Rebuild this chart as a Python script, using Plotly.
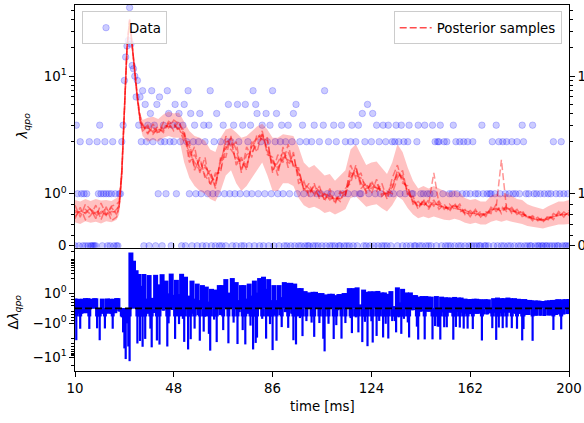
import numpy as np
import plotly.graph_objects as go

# ------------------------------------------------------------------ data
BIN_START = 10.0   # ms, first data bin
BIN_WIDTH = 0.5    # ms
COUNT_ROWS = [
    [0, 3, 1, 0, 2, 1, 0, 1, 0, 1, 0, 2, 0, 0, 0, 0, 0, 2, 1, 3],          # 10-20 ms
    [1, 0, 1, 2, 1, 0, 1, 0, 1, 2, 0, 1, 0, 0, 1, 1, 2, 3, 9, 16],         # 20-30
    [21, 24, 54, 22, 13, 12, 10, 6, 9, 3, 6, 2, 7, 0, 5, 2, 3, 0, 4, 7],   # 30-40
    [2, 3, 0, 5, 1, 6, 2, 0, 3, 2, 1, 7, 4, 2, 0, 3, 2, 5, 1, 3],          # 40-50
    [4, 2, 0, 3, 5, 0, 2, 7, 1, 4, 0, 2, 3, 1, 0, 2, 4, 1, 0, 3],          # 50-60
    [2, 0, 1, 3, 7, 0, 1, 2, 0, 4, 1, 0, 2, 0, 3, 1, 0, 2, 5, 1],          # 60-70
    [2, 0, 3, 1, 0, 5, 2, 1, 0, 3, 0, 5, 1, 2, 0, 3, 1, 7, 0, 5],          # 70-80
    [4, 1, 0, 2, 3, 0, 1, 4, 2, 0, 3, 1, 7, 0, 2, 4, 1, 0, 2, 3],          # 80-90
    [1, 0, 2, 0, 3, 1, 0, 2, 4, 0, 5, 1, 0, 2, 0, 3, 1, 0, 2, 0],          # 90-100
    [0, 1, 2, 0, 3, 0, 1, 0, 2, 1, 0, 3, 7, 0, 1, 2, 0, 1, 0, 3],          # 100-110
    [0, 2, 1, 0, 0, 3, 1, 0, 2, 0, 1, 0, 2, 3, 0, 1, 2, 0, 3, 1],          # 110-120
    [1, 4, 0, 2, 0, 5, 1, 0, 2, 4, 0, 1, 3, 0, 2, 1, 0, 3, 0, 2],          # 120-130
    [0, 3, 1, 0, 2, 1, 2, 3, 0, 2, 1, 3, 0, 2, 1, 0, 2, 3, 0, 1],          # 130-140
    [1, 0, 0, 2, 3, 0, 1, 0, 1, 3, 0, 1, 0, 1, 0, 3, 1, 2, 0, 2],          # 140-150
    [2, 3, 0, 1, 2, 0, 2, 0, 1, 0, 1, 3, 0, 2, 1, 0, 2, 0, 1, 2],          # 150-160
    [0, 1, 2, 0, 1, 0, 2, 0, 1, 0, 1, 0, 0, 3, 1, 0, 0, 1, 0, 1],          # 160-170
    [1, 2, 0, 1, 3, 0, 2, 1, 0, 2, 0, 1, 2, 0, 1, 0, 2, 1, 0, 1],          # 170-180
    [2, 0, 1, 0, 3, 2, 0, 1, 0, 1, 0, 0, 3, 1, 0, 1, 0, 0, 1, 0],          # 180-190
    [0, 1, 0, 0, 1, 0, 1, 0, 2, 0, 1, 0, 0, 1, 2, 0, 1, 0, 0, 1],          # 190-200
    [0],                                                                  # 200
]
COUNTS = np.array([c for row in COUNT_ROWS for c in row], dtype=float)

# posterior sample time grid (finer around the flare peak)
SAMPLE_T = list(range(10, 27, 2)) + list(range(27, 37)) + list(range(38, 201, 2))

MEDIAN = [
    0.66, 0.64, 0.68, 0.63, 0.67, 0.65, 0.66, 0.64, 0.68,
    0.8, 1.4, 4.3, 20, 40, 21, 10, 5.9, 3.5, 2.9,
    2.65, 2.7, 2.6, 2.85, 3.0, 2.9, 2.95, 2.3, 1.85, 1.65,
    1.55, 1.45, 1.3, 1.25, 1.55, 1.95, 2.05, 1.75, 1.55, 1.65,
    1.85, 2.05, 2.3, 1.95, 1.55, 1.55, 1.75, 1.7, 1.65, 1.35,
    1.15, 1.05, 1.1, 1.02, 0.93, 0.97, 0.88, 0.95, 1.02, 1.35,
    1.4, 1.25, 1.1, 1.14, 1.16, 1.06, 0.97, 1.15, 1.4, 1.3,
    1.06, 0.88, 0.78, 0.82, 0.78, 0.82, 0.78, 0.74, 0.72, 0.76,
    0.72, 0.65, 0.62, 0.64, 0.6, 0.6, 0.68, 0.72, 0.68, 0.72,
    0.68, 0.64, 0.62, 0.56, 0.53, 0.51, 0.49, 0.53, 0.56, 0.6,
    0.6, 0.62,
]

# envelope of the posterior samples
BAND_LO = [
    0.45, 0.42, 0.47, 0.44, 0.46, 0.43, 0.47, 0.45, 0.5,
    0.6, 1.2, 3.9, 19, 39, 19.5, 9.3, 5.3, 3.0, 2.3,
    2.0, 2.1, 2.0, 2.2, 2.3, 2.2, 2.2, 1.6, 1.3, 1.15,
    1.05, 1.0, 0.9, 0.85, 1.05, 1.35, 1.45, 1.2, 1.05, 1.15,
    1.3, 1.45, 1.6, 1.35, 1.05, 1.05, 1.2, 1.2, 1.15, 0.92,
    0.78, 0.72, 0.75, 0.7, 0.63, 0.66, 0.6, 0.65, 0.7, 0.92,
    0.95, 0.85, 0.75, 0.78, 0.8, 0.72, 0.66, 0.78, 0.95, 0.88,
    0.72, 0.6, 0.53, 0.56, 0.53, 0.56, 0.53, 0.5, 0.49, 0.52,
    0.49, 0.44, 0.42, 0.44, 0.41, 0.41, 0.46, 0.49, 0.46, 0.49,
    0.46, 0.44, 0.42, 0.38, 0.36, 0.35, 0.33, 0.36, 0.38, 0.41,
    0.41, 0.42,
]
BAND_HI = [
    0.88, 0.85, 0.9, 0.86, 0.9, 0.87, 0.88, 0.86, 0.92,
    1.0, 1.6, 4.8, 21.5, 42, 22.5, 11, 6.6, 4.1, 3.4,
    3.6, 3.7, 3.5, 3.9, 4.2, 4.0, 4.1, 3.3, 2.6, 2.3,
    2.2, 2.05, 1.85, 1.8, 2.2, 2.7, 2.8, 2.5, 2.2, 2.3,
    2.6, 2.9, 3.1, 2.7, 2.2, 2.2, 2.4, 2.35, 2.3, 1.9,
    1.6, 1.5, 1.55, 1.45, 1.35, 1.38, 1.25, 1.35, 1.45, 1.85,
    1.95, 1.75, 1.55, 1.6, 1.62, 1.5, 1.38, 1.6, 1.95, 1.8,
    1.5, 1.25, 1.1, 1.15, 1.1, 1.15, 1.1, 1.05, 1.02, 1.07,
    1.02, 0.92, 0.88, 0.9, 0.85, 0.85, 0.96, 1.0, 0.96, 1.0,
    0.96, 0.9, 0.88, 0.8, 0.76, 0.73, 0.7, 0.76, 0.8, 0.85,
    0.85, 0.88,
]

SAMPLE_1 = [
    0.78, 0.55, 0.8, 0.7, 0.52, 0.82, 0.6, 0.76, 0.8,
    0.85, 1.45, 4.4, 20.5, 40.5, 21.5, 10.3, 6.2, 3.8, 3.1,
    2.4, 3.1, 2.5, 3.2, 2.8, 3.4, 3.1, 2.6, 1.7, 1.9,
    1.4, 1.7, 1.15, 1.4, 1.4, 2.3, 1.9, 2.0, 1.4, 1.9,
    1.7, 2.4, 2.1, 2.2, 1.4, 1.75, 1.6, 1.95, 1.5, 1.5,
    1.05, 1.2, 0.95, 1.15, 0.85, 1.1, 0.8, 1.05, 0.95, 1.55,
    1.3, 1.4, 1.0, 1.25, 1.05, 1.2, 0.9, 1.3, 1.55, 1.2,
    1.15, 0.8, 0.85, 0.75, 0.88, 0.76, 0.86, 0.7, 0.8, 0.7,
    0.8, 0.6, 0.68, 0.58, 0.66, 0.56, 0.74, 0.66, 0.76, 0.66,
    0.74, 0.6, 0.68, 0.52, 0.58, 0.48, 0.54, 0.5, 0.62, 0.56,
    0.65, 0.58,
]
SAMPLE_2 = [
    0.52, 0.74, 0.5, 0.58, 0.78, 0.5, 0.75, 0.48, 0.55,
    0.75, 1.35, 4.2, 19.5, 39.5, 20.5, 9.8, 5.6, 3.3, 2.6,
    2.9, 2.4, 2.8, 2.5, 3.2, 2.6, 2.8, 2.0, 2.0, 1.45,
    1.7, 1.3, 1.45, 1.1, 1.7, 1.7, 2.3, 1.55, 1.7, 1.45,
    2.0, 1.8, 2.5, 1.75, 1.7, 1.35, 1.9, 1.5, 1.8, 1.2,
    1.25, 0.95, 1.2, 0.9, 1.0, 0.88, 0.95, 0.85, 1.1, 1.2,
    1.55, 1.1, 1.2, 1.0, 1.28, 0.95, 1.05, 1.0, 1.3, 1.45,
    0.95, 0.95, 0.7, 0.9, 0.7, 0.88, 0.7, 0.8, 0.65, 0.82,
    0.65, 0.7, 0.56, 0.7, 0.55, 0.65, 0.62, 0.8, 0.62, 0.78,
    0.62, 0.7, 0.56, 0.6, 0.48, 0.55, 0.45, 0.58, 0.5, 0.66,
    0.55, 0.68,
]
SAMPLE_3 = [
    0.64, 0.66, 0.7, 0.6, 0.64, 0.68, 0.6, 0.66, 0.65,
    0.8, 1.4, 4.3, 20, 40, 21, 10, 5.8, 3.6, 2.8,
    2.8, 2.6, 2.9, 2.7, 3.3, 3.0, 2.7, 2.5, 1.6, 1.75,
    1.5, 1.5, 1.4, 1.2, 1.6, 2.0, 2.0, 1.6, 1.65, 1.55,
    1.9, 2.1, 2.6, 1.8, 1.6, 1.5, 1.65, 1.8, 1.55, 1.4,
    1.1, 1.0, 1.15, 1.05, 0.9, 1.0, 0.85, 1.0, 1.05, 1.4,
    1.35, 1.3, 1.15, 1.1, 1.2, 1.0, 1.0, 1.2, 1.35, 1.35,
    1.0, 0.9, 0.76, 0.84, 0.76, 0.84, 0.76, 0.76, 0.7, 0.76,
    0.74, 0.64, 0.6, 0.66, 0.62, 0.6, 0.66, 0.74, 1.65, 0.7,
    0.7, 0.62, 0.6, 0.58, 0.52, 0.52, 0.5, 0.52, 0.58, 0.58,
    0.62, 0.6,
]
SAMPLE_4 = [
    0.68, 0.62, 0.64, 0.72, 0.6, 0.62, 0.72, 0.6, 0.7,
    0.78, 1.38, 4.35, 20.2, 40.2, 20.8, 10.2, 6.0, 3.4, 3.0,
    2.5, 2.9, 2.4, 3.0, 2.9, 2.8, 3.3, 2.2, 1.9, 1.5,
    1.65, 1.35, 1.2, 1.35, 1.45, 1.85, 2.2, 1.85, 1.45, 1.75,
    1.8, 1.95, 2.2, 2.05, 1.45, 1.6, 1.8, 1.6, 1.75, 1.3,
    1.2, 1.1, 1.0, 1.1, 0.95, 0.92, 0.92, 0.9, 0.98, 1.3,
    1.5, 1.2, 1.05, 1.2, 1.1, 1.1, 0.92, 1.1, 1.45, 1.25,
    1.1, 0.85, 0.8, 0.8, 0.8, 1.4, 0.8, 0.72, 0.74, 0.72,
    0.7, 0.68, 0.64, 0.62, 0.58, 0.62, 0.7, 0.7, 0.7, 0.74,
    0.66, 0.66, 0.64, 0.54, 0.55, 0.5, 0.5, 0.55, 0.54, 0.62,
    0.58, 0.64,
]
SAMPLE_5 = [
    0.56, 0.68, 0.62, 0.7, 0.56, 0.66, 0.58, 0.74, 0.6,
    0.74, 1.42, 4.25, 19.8, 39.8, 21.2, 9.9, 5.7, 3.6, 2.7,
    3.0, 2.5, 2.7, 2.6, 3.1, 3.1, 2.6, 2.4, 1.8, 1.6,
    1.45, 1.55, 1.35, 1.15, 1.65, 1.9, 1.85, 1.7, 1.6, 1.5,
    1.95, 2.2, 2.35, 1.85, 1.65, 1.45, 1.7, 1.65, 1.6, 1.45,
    1.1, 1.05, 1.05, 0.95, 1.0, 0.95, 0.9, 0.92, 1.0, 1.3,
    1.45, 1.2, 1.1, 1.15, 1.12, 1.05, 1.0, 1.12, 1.4, 1.3,
    1.05, 0.86, 0.74, 0.86, 0.74, 0.8, 0.8, 0.74, 0.72, 0.78,
    0.7, 0.62, 0.62, 0.62, 0.6, 0.58, 0.7, 0.72, 0.66, 0.72,
    0.68, 0.64, 0.62, 0.56, 0.52, 0.5, 0.48, 0.52, 0.56, 0.58,
    0.6, 0.62,
]
SAMPLES = [SAMPLE_1, SAMPLE_2, SAMPLE_3, SAMPLE_4, SAMPLE_5]

X_TICKS = [10, 48, 86, 124, 162, 200]
TOP_TICK_VALUES = [0, 1, 10]
TOP_TICK_TEXT = ["0", "10<sup>0</sup>", "10<sup>1</sup>"]
TOP_MINOR_VALUES = [0.2, 0.4, 0.6, 0.8, 2, 3, 4, 5, 6, 7, 8, 9, 20, 30, 40, 50]
BOT_TICK_VALUES = [1, -1, -10]
BOT_TICK_TEXT = ["10<sup>0</sup>", "\u221210<sup>0</sup>", "\u221210<sup>1</sup>"]
BOT_MINOR_VALUES = [0.2, 0.4, 0.6, 0.8, 2, 3, 4, 5, 6, 7, 8, 9, 10, 20,
                    -0.2, -0.4, -0.6, -0.8, -2, -3, -4, -5, -6, -7, -8, -9, -20]

for arr in SAMPLES + [MEDIAN, BAND_LO, BAND_HI]:
    assert len(arr) == len(SAMPLE_T)

# ------------------------------------------------------------------ symlog scale (linthresh=2, linscale=1)
LINTHRESH = 2.0
LINSCALE_ADJ = 1.0 / (1.0 - 1.0 / 10.0)


def symlog(v):
    v = np.asarray(v, dtype=float)
    a = np.abs(v)
    logpart = np.sign(v) * LINTHRESH * (LINSCALE_ADJ + np.log10(np.maximum(a, 1e-12) / LINTHRESH))
    return np.where(a <= LINTHRESH, v * LINSCALE_ADJ, logpart)


t_data = BIN_START + BIN_WIDTH * np.arange(len(COUNTS))
ts = np.array(SAMPLE_T, dtype=float)
med = np.array(MEDIAN, dtype=float)
nearest = np.abs(ts[None, :] - t_data[:, None]).argmin(axis=1)
resid = med[nearest] - COUNTS
resid_u = symlog(resid)

# ------------------------------------------------------------------ geometry
W, H = 584, 423
PL, PR, PT, PB = 75.3, 569.0, 4.5, 370.7
ph = PB - PT
top_dom = [(PB - 247.3) / ph, 1.0]
bot_dom = [0.0, (PB - 248.3) / ph]
TOP_RANGE = [-0.0405, 5.14]
BOT_RANGE = [-4.64, 4.42]

FONT = dict(family="DejaVu Sans", size=13.33, color="black")
BLUE_PT = "rgba(0,0,255,0.2)"

fig = go.Figure()

# data points
fig.add_trace(go.Scatter(
    x=t_data, y=symlog(COUNTS), mode="markers", name="Data",
    xaxis="x2", yaxis="y", legend="legend",
    marker=dict(size=6.5, color=BLUE_PT, line=dict(color=BLUE_PT, width=1)),
    hoverinfo="skip"))

# posterior spread band
fig.add_trace(go.Scatter(x=ts, y=symlog(BAND_LO), mode="lines", line=dict(width=0),
                         xaxis="x2", yaxis="y", showlegend=False, hoverinfo="skip"))
fig.add_trace(go.Scatter(x=ts, y=symlog(BAND_HI), mode="lines", line=dict(width=0),
                         fill="tonexty", fillcolor="rgba(255,0,0,0.24)",
                         xaxis="x2", yaxis="y", showlegend=False, hoverinfo="skip"))
for s in SAMPLES:
    fig.add_trace(go.Scatter(x=ts, y=symlog(s), mode="lines",
                             line=dict(color="rgba(255,0,0,0.42)", width=1.5, dash="7px,3px"),
                             xaxis="x2", yaxis="y", showlegend=False, hoverinfo="skip"))
# legend entry for samples
fig.add_trace(go.Scatter(x=[None], y=[None], mode="lines", name="Posterior samples",
                         line=dict(color="rgba(255,0,0,0.7)", width=1.5, dash="7px,3px"),
                         xaxis="x2", yaxis="y", legend="legend2"))
# dummy for right axis
fig.add_trace(go.Scatter(x=[None], y=[None], xaxis="x2", yaxis="y3", showlegend=False))


def bar_trace(values_u, width):
    bx, by = [], []
    for t, r in zip(t_data, values_u):
        if r != 0:
            bx += [t, t, None]
            by += [0.0, r, None]
    return go.Scatter(x=bx, y=by, mode="lines", line=dict(color="blue", width=width),
                      xaxis="x", yaxis="y2", showlegend=False, hoverinfo="skip")


# residuals: positive side, negative near-zero base, negative spikes
fig.add_trace(bar_trace(np.where(resid_u > 0, resid_u, 0.0), 5.0))
fig.add_trace(bar_trace(np.where(resid_u < 0, np.maximum(resid_u, -0.6), 0.0), 4.0))
fig.add_trace(bar_trace(np.where(resid_u < 0, resid_u, 0.0), 2.2))
fig.add_trace(go.Scatter(x=[10, 200], y=[0, 0], mode="lines",
                         line=dict(color="black", width=1.6, dash="7px,3px"),
                         xaxis="x", yaxis="y2", showlegend=False, hoverinfo="skip"))

axis_common = dict(showline=True, linecolor="black", linewidth=1.07, showgrid=False,
                   zeroline=False, tickcolor="black", tickwidth=1.07, ticklen=4.7,
                   tickfont=FONT, automargin=False)

top_ticks_u = symlog(TOP_TICK_VALUES).tolist()
top_minor_u = symlog(TOP_MINOR_VALUES).tolist()
bot_ticks_u = symlog(BOT_TICK_VALUES).tolist()
bot_minor_u = symlog(BOT_MINOR_VALUES).tolist()
minor_style = dict(tickmode="array", ticks="outside", ticklen=2.7, tickwidth=0.8,
                   tickcolor="black", showgrid=False)

fig.update_layout(
    width=W, height=H,
    margin=dict(l=PL, r=W - PR, t=PT, b=H - PB, pad=0, autoexpand=False),
    paper_bgcolor="white", plot_bgcolor="white",
    font=FONT,
    xaxis=dict(axis_common, domain=[0, 1], anchor="y2", range=[10, 200],
               tickmode="array", tickvals=X_TICKS, ticks="outside", mirror=True),
    xaxis2=dict(axis_common, domain=[0, 1], anchor="y", range=[10, 200], matches="x",
                tickmode="array", tickvals=X_TICKS, ticks="inside", showticklabels=False,
                mirror=True),
    yaxis=dict(axis_common, domain=top_dom, anchor="x2", range=TOP_RANGE,
               tickmode="array", tickvals=top_ticks_u, ticktext=TOP_TICK_TEXT,
               ticks="outside", minor=dict(minor_style, tickvals=top_minor_u)),
    yaxis3=dict(axis_common, overlaying="y", side="right", anchor="x2", range=TOP_RANGE,
                tickmode="array", tickvals=top_ticks_u, ticktext=TOP_TICK_TEXT,
                ticks="outside", minor=dict(minor_style, tickvals=top_minor_u)),
    yaxis2=dict(axis_common, domain=bot_dom, anchor="x", range=BOT_RANGE,
                tickmode="array", tickvals=bot_ticks_u, ticktext=BOT_TICK_TEXT,
                ticks="outside", mirror=True, minor=dict(minor_style, tickvals=bot_minor_u)),
    legend=dict(x=(82.3 - PL) / (PR - PL), y=(PB - 11) / ph, xanchor="left", yanchor="top",
                bgcolor="rgba(255,255,255,0.8)", bordercolor="#cccccc", borderwidth=1,
                font=FONT, itemwidth=36),
    legend2=dict(x=(561.7 - PL) / (PR - PL), y=(PB - 11) / ph, xanchor="right", yanchor="top",
                 bgcolor="rgba(255,255,255,0.8)", bordercolor="#cccccc", borderwidth=1,
                 font=FONT, itemwidth=32),
    annotations=[
        dict(text="time [ms]", xref="paper", yref="paper", x=0.5, y=(PB - 406) / ph,
             xanchor="center", yanchor="middle", showarrow=False, font=FONT),
        dict(text="<i>λ</i><sub><i>qpo</i></sub>", xref="paper", yref="paper",
             x=(23.5 - PL) / (PR - PL), y=(PB - 126) / ph, xanchor="center", yanchor="middle",
             textangle=-90, showarrow=False, font=FONT),
        dict(text="Δ<i>λ</i><sub><i>qpo</i></sub>", xref="paper", yref="paper",
             x=(14.5 - PL) / (PR - PL), y=(PB - 312) / ph, xanchor="center", yanchor="middle",
             textangle=-90, showarrow=False, font=FONT),
    ],
)

fig.write_html("out.html")
